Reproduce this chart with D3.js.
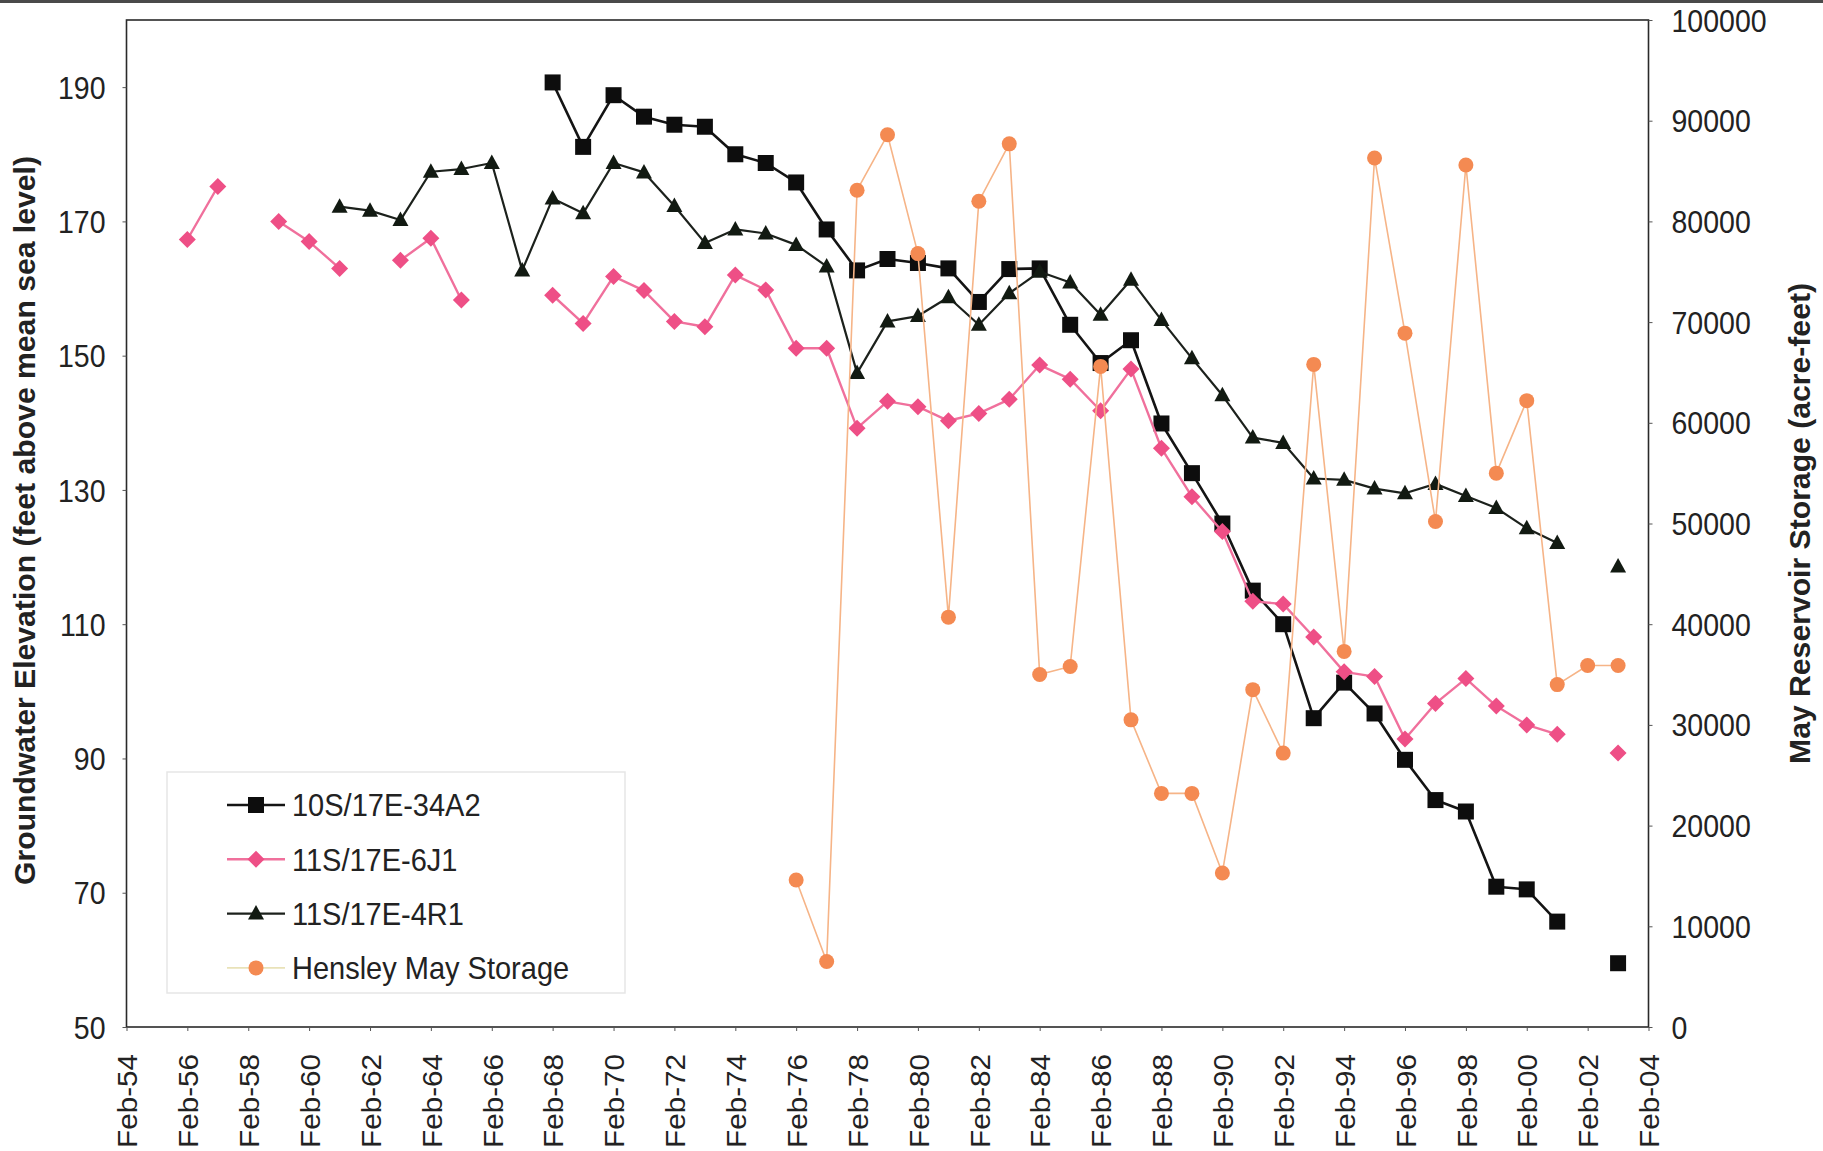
<!DOCTYPE html>
<html>
<head>
<meta charset="utf-8">
<script src="https://cdn.jsdelivr.net/npm/d3@7"></script>
<style>
  html, body { margin: 0; padding: 0; background: #fff; }
  svg { display: block; }
  text { font-family: "Liberation Sans", Arial, sans-serif; fill: #222; }
</style>
</head>
<body>
<svg id="chart" width="1823" height="1151"></svg>
<script>
// Sample years (February readings); null = no measurement that year
const years = d3.range(1956, 2004);

// 10S/17E-34A2 groundwater elevation (ft above msl)
const well34A2 = [
  null, null, null, null, null, null, null, null, null, null, null, null,
  190.7, 181.1, 188.8, 185.6, 184.4, 184.1, 180.0, 178.7, 175.8, 168.8,
  162.7, 164.4, 163.8, 163.0, 158.0, 162.9, 163.0, 154.6, 148.9, 152.3,
  139.9, 132.5, 125.0, 115.0, 110.0, 96.0, 101.3, 96.7, 89.8, 83.8,
  82.1, 70.9, 70.5, 65.7, null, 59.5
];

// 11S/17E-6J1 groundwater elevation (ft above msl)
const well6J1 = [
  167.3, 175.2, null, 170.0, 167.0, 163.0, null, 164.2, 167.5, 158.3, null, null,
  159.0, 154.8, 161.8, 159.7, 155.1, 154.3, 162.0, 159.8, 151.1, 151.1,
  139.2, 143.2, 142.4, 140.3, 141.4, 143.5, 148.6, 146.5, 141.8, 148.0,
  136.2, 129.0, 123.8, 113.4, 113.0, 108.1, 102.9, 102.2, 92.9, 98.2,
  101.9, 97.8, 95.0, 93.6, null, 90.8
];

// 11S/17E-4R1 groundwater elevation (ft above msl)
const well4R1 = [
  null, null, null, null, null, 172.2, 171.6, 170.2, 177.4, 177.8, 178.7, 162.7,
  173.4, 171.2, 178.7, 177.3, 172.3, 166.8, 168.8, 168.2, 166.5, 163.3,
  147.4, 155.1, 155.9, 158.7, 154.6, 159.3, 162.5, 160.9, 156.1, 161.3,
  155.3, 149.6, 144.1, 137.8, 137.0, 131.7, 131.5, 130.2, 129.5, 130.9,
  129.1, 127.3, 124.3, 122.1, null, 118.6
];

// Hensley Lake May storage (acre-feet), secondary axis
const hensleyStorage = [
  null, null, null, null, null, null, null, null, null, null, null, null,
  null, null, null, null, null, null, null, null, 14600, 6500,
  83100, 88600, 76800, 40700, 82000, 87700, 35000, 35800, 65600, 30500,
  23200, 23200, 15300, 33500, 27200, 65800, 37300, 86300, 68900, 50200,
  85600, 55000, 62200, 34000, 35900, 35900
];

const seriesNames = ["10S/17E-34A2", "11S/17E-6J1", "11S/17E-4R1", "Hensley May Storage"];
const xTickYears = d3.range(1954, 2005, 2);
const leftTicks = d3.range(50, 191, 20);
const rightTicks = d3.range(0, 100001, 10000);
const leftTitle = "Groundwater Elevation (feet above mean sea level)";
const rightTitle = "May Reservoir Storage (acre-feet)";

// ---- layout ----
const svg = d3.select("#chart");
const plot = { left: 126.5, right: 1648.5, top: 20, bottom: 1027 };
const FONT = 28.5;
const STRETCH_H = 1.08;   // slightly tall lettering
const STRETCH_V = 1.04;

const feb = y => new Date(y, 1, 1);
const x = d3.scaleTime().domain([feb(1954), feb(2004)]).range([plot.left, plot.right]);
const yL = d3.scaleLinear().domain([50, 200]).range([plot.bottom, plot.top]);
const yR = d3.scaleLinear().domain([0, 100000]).range([plot.bottom, plot.top]);

// page frame strip along the top edge
svg.append("rect").attr("x", 0).attr("y", 0).attr("width", 1823).attr("height", 3).attr("fill", "#4a4a4a");

// plot frame
svg.append("rect")
  .attr("x", plot.left).attr("y", plot.top)
  .attr("width", plot.right - plot.left).attr("height", plot.bottom - plot.top)
  .attr("fill", "none").attr("stroke", "#2a2a2a").attr("stroke-width", 1.6);

// ---- axes ----
function styleAxis(g) {
  g.select(".domain").remove();
  g.selectAll(".tick line").attr("stroke", "#555").attr("stroke-width", 1);
  g.selectAll(".tick text").attr("font-size", FONT).attr("fill", "#222");
}

const xAxis = svg.append("g")
  .attr("transform", `translate(0,${plot.bottom})`)
  .call(d3.axisBottom(x).tickValues(xTickYears.map(feb)).tickFormat(d3.timeFormat("%b-%y")).tickSize(4).tickPadding(0));
styleAxis(xAxis);
xAxis.selectAll(".tick text")
  .attr("text-anchor", "end")
  .attr("transform", `translate(0,27) scale(1,${STRETCH_V}) rotate(-90)`)
  .attr("x", 0).attr("y", 0).attr("dy", "0.36em");

function stretchTickText(g, anchorX) {
  g.selectAll(".tick text").each(function () {
    const t = d3.select(this);
    const tx = +t.attr("x");
    t.attr("x", 0).attr("dy", "0.36em")
      .attr("transform", `translate(${tx},0) scale(1,${STRETCH_H})`);
  });
}

const leftAxis = svg.append("g")
  .attr("transform", `translate(${plot.left},0)`)
  .call(d3.axisLeft(yL).tickValues(leftTicks).tickSize(4).tickPadding(17));
styleAxis(leftAxis);
stretchTickText(leftAxis);

const rightAxis = svg.append("g")
  .attr("transform", `translate(${plot.right},0)`)
  .call(d3.axisRight(yR).tickValues(rightTicks).tickFormat(d3.format("d")).tickSize(4).tickPadding(19));
styleAxis(rightAxis);
stretchTickText(rightAxis);

// axis titles
svg.append("text")
  .attr("transform", `translate(35,${(plot.top + plot.bottom) / 2 - 3}) scale(1,${STRETCH_V}) rotate(-90)`)
  .attr("text-anchor", "middle").attr("font-weight", "bold").attr("font-size", 29)
  .text(leftTitle);
svg.append("text")
  .attr("transform", `translate(1810,${(plot.top + plot.bottom) / 2}) scale(1,${STRETCH_V}) rotate(-90)`)
  .attr("text-anchor", "middle").attr("font-weight", "bold").attr("font-size", 29)
  .text(rightTitle);

// ---- marker shapes ----
const shapes = {
  square: "M-8,-8H8V8H-8Z",
  diamond: "M0,-8.5L8.5,0L0,8.5L-8.5,0Z",
  triangle: "M0,-8.5L8,6L-8,6Z",
  circle: d3.symbol(d3.symbolCircle, Math.PI * 7.5 * 7.5)()
};

const series = [
  { name: seriesNames[0], values: well34A2, y: yL, line: "#141414", lw: 2.6, marker: "square", fill: "#0d0d0d" },
  { name: seriesNames[1], values: well6J1, y: yL, line: "#f0709c", lw: 2.4, marker: "diamond", fill: "#ee4f86" },
  { name: seriesNames[2], values: well4R1, y: yL, line: "#1c211c", lw: 2.2, marker: "triangle", fill: "#121a12" },
  { name: seriesNames[3], values: hensleyStorage, y: yR, line: "#f6b487", lw: 1.6, marker: "circle", fill: "#f48a52" }
];

series.forEach(s => {
  const pts = years.map((yr, i) => ({ date: feb(yr), v: s.values[i] }));
  const line = d3.line().defined(d => d.v != null).x(d => x(d.date)).y(d => s.y(d.v));
  const g = svg.append("g");
  g.append("path").attr("d", line(pts)).attr("fill", "none")
    .attr("stroke", s.line).attr("stroke-width", s.lw).attr("stroke-linejoin", "round");
  g.selectAll("path.m").data(pts.filter(d => d.v != null)).join("path")
    .attr("class", "m")
    .attr("d", shapes[s.marker])
    .attr("transform", d => `translate(${x(d.date)},${s.y(d.v)})`)
    .attr("fill", s.fill);
});

// ---- legend ----
const legend = svg.append("g");
legend.append("rect").attr("x", 167).attr("y", 772).attr("width", 458).attr("height", 221)
  .attr("fill", "#fff").attr("stroke", "#e6e6e6").attr("stroke-width", 1.5);
const legendLine = { "#f6b487": "#e9e2b8" };
series.forEach((s, i) => {
  const cy = 805 + i * 54.3;
  legend.append("line").attr("x1", 227).attr("x2", 285).attr("y1", cy).attr("y2", cy)
    .attr("stroke", legendLine[s.line] || s.line).attr("stroke-width", s.lw);
  legend.append("path").attr("d", shapes[s.marker]).attr("transform", `translate(256,${cy})`).attr("fill", s.fill);
  legend.append("text").attr("transform", `translate(292,${cy}) scale(1,${STRETCH_H})`)
    .attr("dy", "0.36em").attr("font-size", 29).text(s.name);
});
</script>
</body>
</html>
